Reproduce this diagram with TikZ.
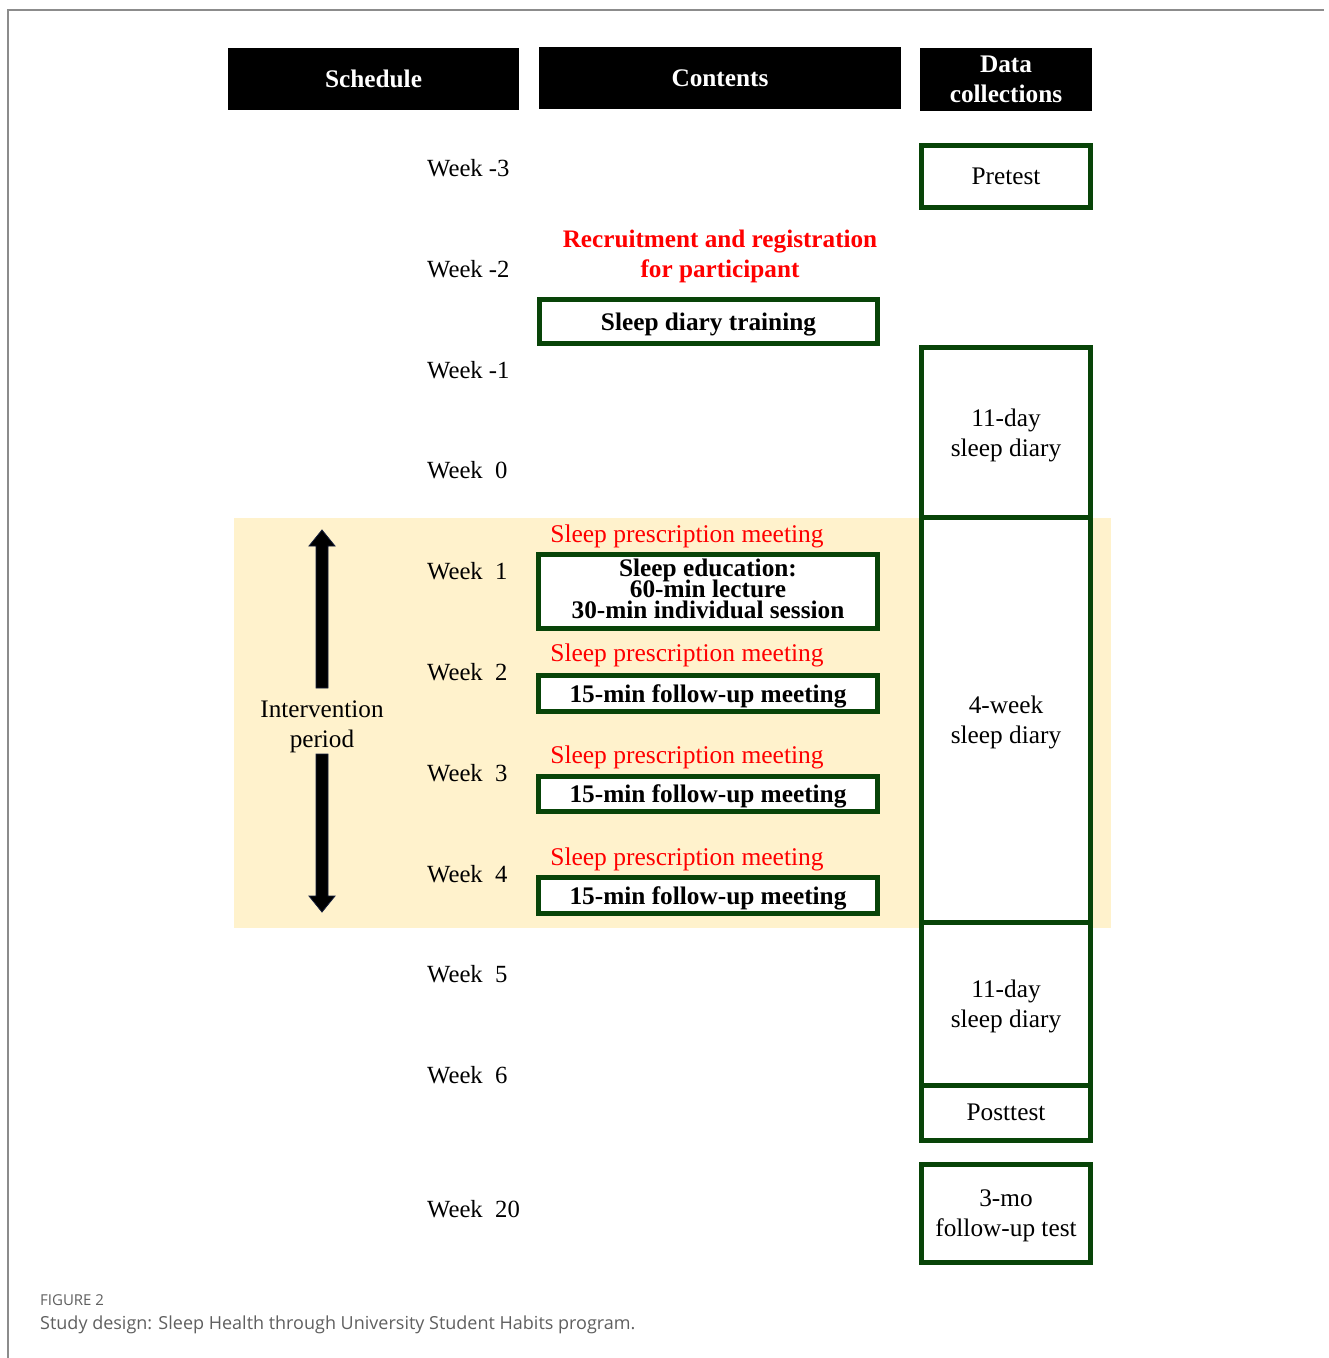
\documentclass[tikz,border=0pt]{standalone}
\usepackage{fontspec}
\setmainfont{Liberation Serif}
\newfontfamily\capfont{Open Sans}
\newcommand\mytightlines{\lineskiplimit=-30pt\relax\lineskip=0pt\relax}
\definecolor{boxgreen}{RGB}{8,68,8}
\definecolor{bandyellow}{RGB}{255,242,204}
\definecolor{redtxt}{RGB}{255,0,0}
\definecolor{framegray}{RGB}{140,140,140}
\definecolor{capgray}{RGB}{95,95,95}
\begin{document}
\begin{tikzpicture}[x=1pt,y=-1pt,
  txt/.style={font=\fontsize{25.2}{30}\selectfont, inner sep=0pt, align=center, text depth=0pt},
  wk/.style={txt, anchor=west, font=\fontsize{24.7}{30}\selectfont},
  hdr/.style={fill=black, text=white, font=\fontsize{25.3}{30}\selectfont\bfseries, inner sep=0pt, align=center},
  gbox/.style={draw=boxgreen, line width=5pt, fill=white, inner sep=0pt, align=center, text depth=0pt, font=\fontsize{25.3}{30}\selectfont},
  bbox/.style={gbox, font=\fontsize{25.3}{21}\selectfont\bfseries\mytightlines},
  redb/.style={txt, text=redtxt, font=\fontsize{25.2}{30}\selectfont\bfseries},
  redn/.style={txt, text=redtxt, font=\fontsize{25.5}{30}\selectfont},
  blockarrow/.style={fill=black, draw={rgb,255:red,20;green,30;blue,60}, line width=0.8pt}
]
\useasboundingbox (0,0) rectangle (1329,1358);
% frame
\draw[framegray, line width=1.6pt] (8,1358) -- (8,10) -- (1324,10);
% yellow band
\fill[bandyellow] (234,518) rectangle (1111,928);
% headers
\node[hdr, minimum width=291pt, minimum height=62pt] (hsched) at (373.5,79) {Schedule};
\node[hdr, minimum width=362pt, minimum height=62pt] (hcont) at (720,78) {Contents};
\node[hdr, minimum width=172pt, minimum height=63pt] (hdata) at (1006,79.5) {Data\\collections};
% weeks
\node[wk] (wm3) at (427,168) {Week -3};
\node[wk] (wm2) at (427,269) {Week -2};
\node[wk] (wm1) at (427,370) {Week -1};
\node[wk] (w0) at (427,470) {Week\ \ 0};
\node[wk] (w1) at (427,571) {Week\ \ 1};
\node[wk] (w2) at (427,672) {Week\ \ 2};
\node[wk] (w3) at (427,773) {Week\ \ 3};
\node[wk] (w4) at (427,874) {Week\ \ 4};
\node[wk] (w5) at (427,974) {Week\ \ 5};
\node[wk] (w6) at (427,1075) {Week\ \ 6};
\node[wk] (w20) at (427,1209) {Week\ \ 20};
% contents
\node[redb] (recruit) at (720,254) {Recruitment and registration\\for participant};
\node[bbox, minimum width=338pt, minimum height=44pt] (training) at (708.5,321.5) {Sleep diary training};
\node[redn] (spm1) at (687,534) {Sleep prescription meeting};
\node[bbox, text depth=6pt, minimum width=339pt, minimum height=74pt] (educ) at (708,591.5) {Sleep education:\\60-min lecture\\30-min individual session};
\node[redn] (spm2) at (687,653) {Sleep prescription meeting};
\node[bbox, minimum width=339pt, minimum height=36pt] (fu1) at (708,693.5) {15-min follow-up meeting};
\node[redn] (spm3) at (687,755) {Sleep prescription meeting};
\node[bbox, minimum width=339pt, minimum height=35pt] (fu2) at (708,794) {15-min follow-up meeting};
\node[redn] (spm4) at (687,857) {Sleep prescription meeting};
\node[bbox, minimum width=339pt, minimum height=36pt] (fu3) at (708,895.5) {15-min follow-up meeting};
% data collections
\node[gbox, minimum width=169pt, minimum height=62pt] (pretest) at (1006,176.5) {Pretest};
\node[gbox, minimum width=169pt, minimum height=170pt] (diaryA) at (1006,432.5) {11-day\\sleep diary};
\node[gbox, minimum width=169pt, minimum height=405pt] (diaryW) at (1006,720) {4-week\\sleep diary};
\node[gbox, minimum width=169pt, minimum height=162.5pt] (diaryB) at (1006,1003.75) {11-day\\sleep diary};
\node[gbox, minimum width=169pt, minimum height=55pt] (posttest) at (1006,1112.5) {Posttest};
\node[gbox, minimum width=169pt, minimum height=98pt] (followup) at (1006,1213.5) {3-mo\\follow-up test};
% intervention period
\node[txt] (interv) at (322,724) {Intervention\\period};
\draw[blockarrow] (322,530) -- (335,546) -- (328,546) -- (328,688) -- (316,688) -- (316,546) -- (309,546) -- cycle;
\draw[blockarrow] (322,912) -- (335,896) -- (328,896) -- (328,754) -- (316,754) -- (316,896) -- (309,896) -- cycle;
% caption
\node[anchor=west, inner sep=0pt, text=capgray, font=\capfont\fontsize{15}{17}\selectfont] (figlab) at (40,1300.5) {FIGURE 2};
\node[anchor=west, inner sep=0pt, text=capgray, font=\capfont\fontsize{18}{21}\selectfont] (caption) at (40,1325) {Study design: Sleep Health through University Student Habits program.};
\end{tikzpicture}
\end{document}
